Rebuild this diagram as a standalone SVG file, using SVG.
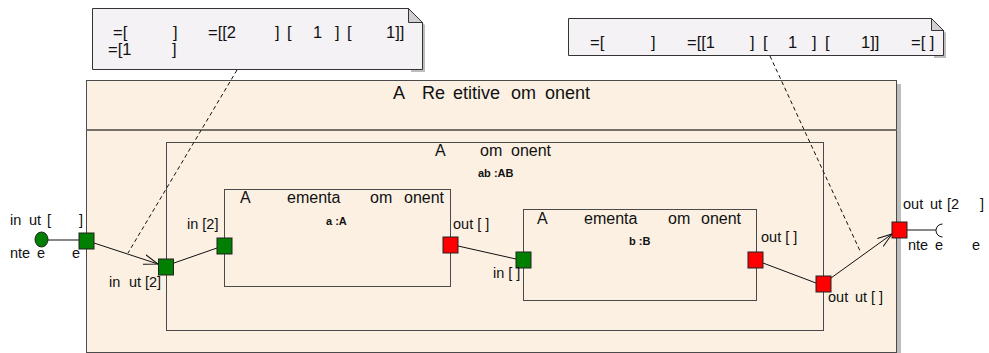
<svg xmlns="http://www.w3.org/2000/svg" width="989" height="353" viewBox="0 0 989 353">
<style>
text{font-family:"Liberation Sans",Arial,sans-serif;fill:#111}
.note{fill:#f5f2f5;stroke:#333;stroke-width:1}
.fold{fill:#d2cfd2;stroke:#333;stroke-width:1}
.shadow{fill:#bdbdbd}
.comp{fill:#fbf0e2;stroke:#4a4a4a;stroke-width:1}
.green{fill:#007f00;stroke:#222;stroke-width:1}
.red{fill:#ff0000;stroke:#222;stroke-width:1}
.con{stroke:#111;stroke-width:1;fill:none}
.dash{stroke:#111;stroke-width:1;stroke-dasharray:4,3;fill:none}
.nt{font-size:16.5px}
.ttl{font-size:18px}
.ct{font-size:16px}
.bl{font-size:11px;font-weight:bold}
.pl{font-size:14.5px}
</style>
<defs>
<marker id="open" markerUnits="userSpaceOnUse" viewBox="0 0 15 11" refX="14.5" refY="5.5" markerWidth="15" markerHeight="11" orient="auto">
<path d="M0,0.5 L14.5,5.5 L0,10.5" fill="none" stroke="#111" stroke-width="1"/>
</marker>
</defs>

<g id="repetitive">
<rect class="shadow" x="90" y="84" width="811" height="272"/>
<rect class="comp" x="86.5" y="80.5" width="810" height="272" stroke="#333"/>
<line x1="86.5" y1="130" x2="896.5" y2="130" stroke="#77706a" stroke-width="2"/>
<text class="ttl" y="99"><tspan x="393">A</tspan><tspan x="422">Re</tspan><tspan x="453">etitive</tspan><tspan x="511">om</tspan><tspan x="545">onent</tspan></text>
</g>

<g id="ab">
<rect class="comp" x="166.5" y="142.5" width="657" height="188"/>
<text class="ct" y="156"><tspan x="435">A</tspan><tspan x="480">om</tspan><tspan x="511">onent</tspan></text>
<text class="bl" x="478" y="177">ab :AB</text>
</g>

<g id="a">
<rect class="comp" x="224.5" y="189.5" width="226" height="97"/>
<text class="ct" y="203"><tspan x="240">A</tspan><tspan x="287">ementa</tspan><tspan x="370">om</tspan><tspan x="404">onent</tspan></text>
<text class="bl" x="326" y="225">a :A</text>
</g>

<g id="b">
<rect class="comp" x="523.5" y="209.5" width="233" height="91"/>
<text class="ct" y="224"><tspan x="537">A</tspan><tspan x="584">ementa</tspan><tspan x="668">om</tspan><tspan x="701">onent</tspan></text>
<text class="bl" x="629" y="245">b :B</text>
</g>

<g id="note1">
<path class="shadow" d="M95,72 H425 V25 L411,11 V72 Z"/>
<path class="note" d="M92.5,8.5 H408.5 L422.5,22.5 V69.5 H92.5 Z"/>
<path class="fold" d="M408.5,8.5 V22.5 H422.5 Z"/>
<text class="nt" y="38"><tspan x="113">=[</tspan><tspan x="173">]</tspan><tspan x="208">=[[2</tspan><tspan x="275">]</tspan><tspan x="287">[</tspan><tspan x="313">1</tspan><tspan x="335">]</tspan><tspan x="347">[</tspan><tspan x="386">1]]</tspan></text>
<text class="nt" y="55"><tspan x="108">=[1</tspan><tspan x="172">]</tspan></text>
</g>

<g id="note2">
<path class="shadow" d="M571,58 H946 V33 L934,21 V58 Z"/>
<path class="note" d="M568.5,18.5 H931.5 L943.5,30.5 V55.5 H568.5 Z"/>
<path class="fold" d="M931.5,18.5 V30.5 H943.5 Z"/>
<text class="nt" y="48"><tspan x="590">=[</tspan><tspan x="651">]</tspan><tspan x="687">=[[1</tspan><tspan x="750">]</tspan><tspan x="763">[</tspan><tspan x="788">1</tspan><tspan x="812">]</tspan><tspan x="825">[</tspan><tspan x="861">1]]</tspan><tspan x="911">=[ ]</tspan></text>
</g>

<g id="connectors">
<line class="dash" x1="237" y1="70" x2="128" y2="253"/>
<line class="dash" x1="770" y1="56" x2="861" y2="253"/>
<line class="con" x1="48" y1="240" x2="79" y2="240"/>
<line class="con" x1="94" y1="243" x2="158" y2="264" marker-end="url(#open)"/>
<line class="con" x1="174" y1="263" x2="217" y2="248"/>
<line class="con" x1="458" y1="246" x2="516" y2="259"/>
<line class="con" x1="763" y1="263" x2="816" y2="283"/>
<line class="con" x1="831" y1="278" x2="892" y2="234" marker-end="url(#open)"/>
<line class="con" x1="907" y1="230" x2="936" y2="230"/>
<path class="con" d="M942.5,224 A6.5,6.5 0 0 0 942.5,237"/>
</g>

<g id="ports">
<g id="intIn"><ellipse class="green" cx="41.5" cy="239.5" rx="6.5" ry="7.5"/>
<text class="pl" y="225"><tspan x="10">in</tspan><tspan x="29">ut</tspan><tspan x="47">[</tspan><tspan x="79">]</tspan></text>
<text class="pl" y="258"><tspan x="10">nte</tspan><tspan x="37">e</tspan><tspan x="72">e</tspan></text></g>
<g id="pOuterIn"><rect class="green" x="79" y="233" width="15" height="16"/></g>
<g id="pAbIn"><rect class="green" x="158.5" y="259" width="15" height="16"/>
<text class="pl" y="287"><tspan x="109">in</tspan><tspan x="129">ut</tspan><tspan x="145">[2]</tspan></text></g>
<g id="pAIn"><rect class="green" x="217" y="238" width="15" height="16"/>
<text class="pl" x="187" y="229">in [2]</text></g>
<g id="pAOut"><rect class="red" x="443" y="237" width="15" height="16"/>
<text class="pl" x="453" y="229">out [ ]</text></g>
<g id="pBIn"><rect class="green" x="516" y="252" width="15" height="16"/>
<text class="pl" x="493" y="278">in [ ]</text></g>
<g id="pBOut"><rect class="red" x="748" y="252" width="15" height="16"/>
<text class="pl" x="761" y="242">out [ ]</text></g>
<g id="pAbOut"><rect class="red" x="816" y="276" width="15" height="16"/>
<text class="pl" y="302"><tspan x="828">out</tspan><tspan x="855">ut</tspan><tspan x="871">[ ]</tspan></text></g>
<g id="pOuterOut"><rect class="red" x="892" y="222" width="15" height="16"/>
<text class="pl" y="209"><tspan x="903">out</tspan><tspan x="930">ut</tspan><tspan x="947">[2</tspan><tspan x="980">]</tspan></text>
<text class="pl" y="250"><tspan x="908">nte</tspan><tspan x="935">e</tspan><tspan x="972">e</tspan></text></g>
</g>
</svg>
